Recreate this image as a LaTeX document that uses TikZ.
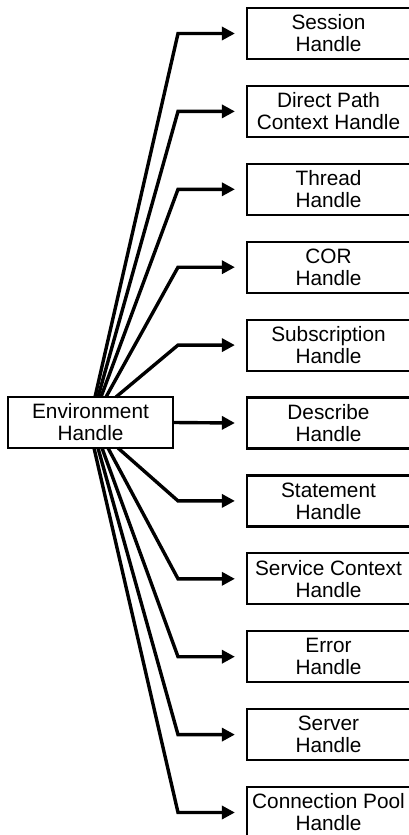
\documentclass[tikz,border=0pt]{standalone}
\usepackage{fontspec}
\setmainfont{Liberation Sans}
\usetikzlibrary{arrows.meta}
\begin{document}
\begin{tikzpicture}[x=1pt,y=-1pt,
  hbox/.style={draw, line width=2.2pt, minimum width=163pt, minimum height=51pt, inner sep=0pt,
    align=center, font=\fontsize{20.8}{22}\selectfont},
  envbox/.style={hbox, minimum width=165pt},
  conn/.style={line width=3.4pt, line join=miter, -{Triangle[length=13pt,width=13pt]}}]
\useasboundingbox (0,0) rectangle (408,835);
\node[envbox] (env) at (90.5,422.5) {Environment\\Handle};
\foreach \n/\t [count=\k from 0] in {s1/{Session\\Handle}, s2/{Direct Path\\Context Handle}, s3/{Thread\\Handle}, s4/{COR\\Handle}, s5/{Subscription\\Handle}, s6/{Describe\\Handle}, s7/{Statement\\Handle}, s8/{Service Context\\Handle}, s9/{Error\\Handle}, s10/{Server\\Handle}, s11/{Connection Pool\\Handle}}
  \node[hbox] (\n) at (328.5, 33.5+77.9*\k) {\t};
\foreach \n/\x in {s1/95, s2/98, s3/101, s4/106, s5/116}
  \draw[conn] (\x, 397) -- (178, 0 |- \n.west) -- ([xshift=-11pt]\n.west);
\foreach \n/\x in {s7/118, s8/108, s9/102, s10/98, s11/94}
  \draw[conn] (\x, 448) -- (178, 0 |- \n.west) -- ([xshift=-11pt]\n.west);
\draw[conn] (env.east) -- ([xshift=-11pt]s6.west);
\end{tikzpicture}
\end{document}
